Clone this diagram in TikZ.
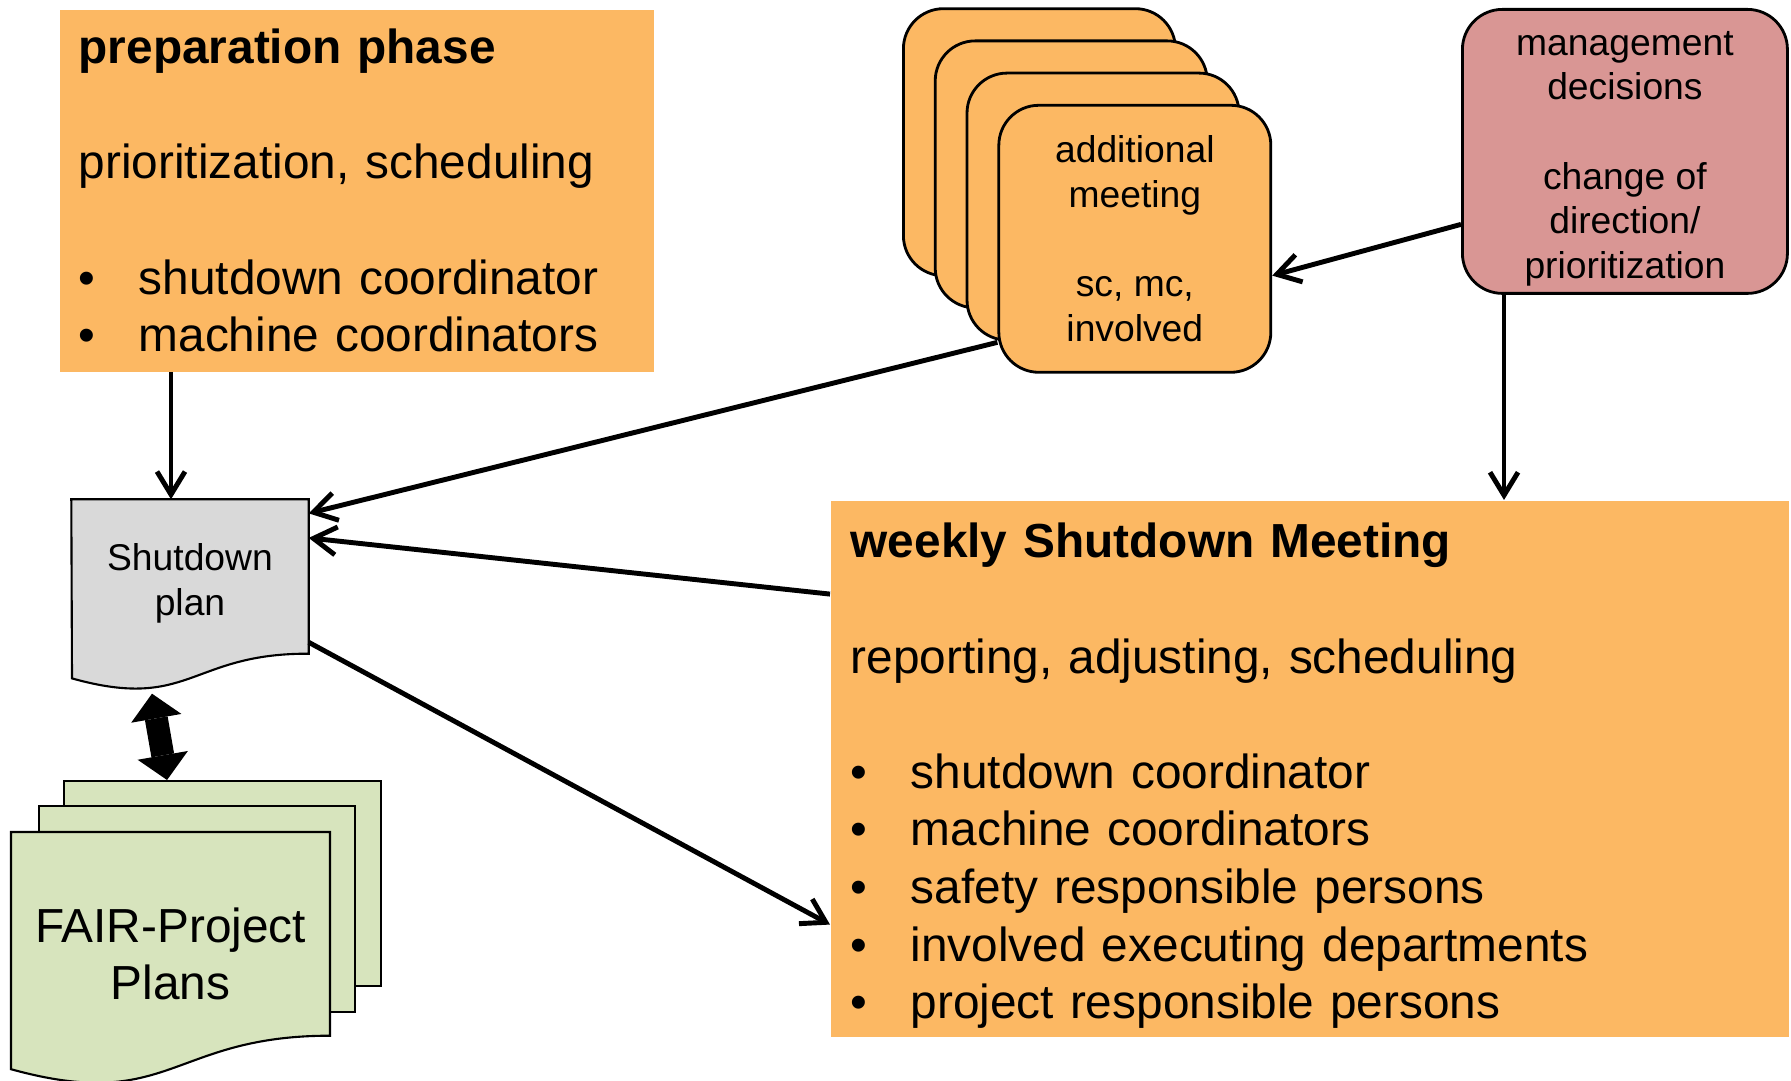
\documentclass[tikz,border=0pt]{standalone}
\usepackage{fontspec}
\setmainfont{Liberation Sans}
\usepackage{tikz}
\usetikzlibrary{
  arrows.meta, positioning, calc, backgrounds
}
\definecolor{phase}{HTML}{FCB863}
\definecolor{mgmtred}{HTML}{D99694}
\definecolor{plangray}{HTML}{D9D9D9}
\definecolor{fairgreen}{HTML}{D7E4BD}

\newcommand{\bigtxt}{\fontsize{13.6}{16.4}\selectfont}
\newcommand{\smalltxt}{\fontsize{10.6}{12.7}\selectfont}
\newcommand{\bitem}[1]{\makebox[0.6cm][l]{\textbullet}#1}
\newcommand{\topgap}[1]{\rule{0pt}{#1}}

\begin{document}
\begin{tikzpicture}[
    phasebox/.style={fill=phase, inner xsep=0.19cm, inner ysep=0pt, align=left,
      font=\bigtxt, anchor=north west},
    meetbox/.style={draw, line width=0.8pt, fill=phase, rounded corners=0.4cm,
      minimum width=2.72cm, minimum height=2.67cm, anchor=north west},
    page/.style={draw, line width=0.6pt, fill=fairgreen, anchor=north west,
      inner sep=0pt},
    conn/.style={line width=1.4pt, -{Straight Barb[length=2.3mm,width=2.8mm]}},
    fat/.style={line width=0.23cm,
      {Triangle[length=2.5mm,width=5.1mm,line width=0pt]}-{Triangle[length=2.5mm,width=5.1mm,line width=0pt]}}
  ]
  \useasboundingbox (0,0) rectangle (17.91,-10.81);

  % preparation phase
  \node[phasebox, minimum width=5.94cm, minimum height=3.62cm, text width=5.56cm]
    (prep) at (0.59,-0.09) {\textbf{preparation phase}\\[16.4pt]
      prioritization, scheduling\\[16.4pt]
      \bitem{shutdown coordinator}\\
      \bitem{machine coordinators}};

  % weekly meeting
  \node[phasebox, inner xsep=0.2cm, minimum width=9.58cm, minimum height=5.36cm, text width=9.18cm]
    (weekly) at (8.30,-5.00) {\topgap{14pt}\textbf{weekly Shutdown Meeting}\\[16.4pt]
      reporting, adjusting, scheduling\\[16.4pt]
      \bitem{shutdown coordinator}\\
      \bitem{machine coordinators}\\
      \bitem{safety responsible persons}\\
      \bitem{involved executing departments}\\
      \bitem{project responsible persons}};

  % additional meetings
  \foreach \i in {0,1,2}
    \node[meetbox] (meet\i) at ({9.02+0.318*\i},{-0.073-0.322*\i}) {};
  \node[meetbox, align=center, font=\smalltxt] (addl) at (9.974,-1.039)
    {additional\\meeting\\[12.7pt]sc, mc,\\involved};

  % management
  \node[draw, line width=0.8pt, fill=mgmtred, rounded corners=0.4cm, anchor=north west,
    minimum width=3.25cm, minimum height=2.84cm, inner ysep=0pt, align=center, font=\smalltxt]
    (mgmt) at (14.61,-0.08)
    {\topgap{11pt}management\\decisions\\[12.7pt]change of\\direction/\\prioritization};

  % shutdown plan
  \node[minimum width=2.36cm, minimum height=1.53cm, align=center, font=\smalltxt]
    (plan) at (1.90,-5.765) {\topgap{11.7pt}Shutdown\\plan};
  \begin{scope}[on background layer]
    \draw[line width=0.6pt, fill=plangray] (plan.north west) -- (plan.north east)
      -- (plan.south east) .. controls (1.90,-6.532) and (1.90,-7.115) .. (0.72,-6.784)
      -- cycle;
  \end{scope}

  % FAIR plans
  \node[page, minimum width=3.17cm, minimum height=2.05cm] (fairback) at (0.63,-7.80) {};
  \node[page, minimum width=3.16cm, minimum height=2.06cm] (fairmid) at (0.38,-8.05) {};
  \draw[line width=0.6pt, fill=fairgreen] (0.11,-8.32) -- (3.30,-8.32) -- (3.30,-10.357)
    .. controls (1.705,-10.357) and (1.705,-11.133) .. (0.11,-10.692) -- cycle;
  \node[align=center, font=\bigtxt] (fair) at (1.705,-9.54) {FAIR-Project\\Plans};

  % connectors
  \coordinate (pdrop) at (1.71,0);
  \coordinate (mdrop) at (15.04,0);
  \draw[conn] (prep.south -| pdrop) -- (plan.north -| pdrop);
  \draw[conn] (mgmt.south -| mdrop) -- (weekly.north -| mdrop);
  \draw[conn] (mgmt.204) -- (addl.-15);
  \draw[conn] (addl.217) -- (plan.28);
  \draw[conn] (weekly.160) -- (plan.18);
  \draw[conn] (plan.-29) -- (weekly.198);
  \draw[fat] ([shift={(-0.38,-0.40)}]plan.south) -- ([xshift=-0.555cm]fairback.north);
\end{tikzpicture}
\end{document}
